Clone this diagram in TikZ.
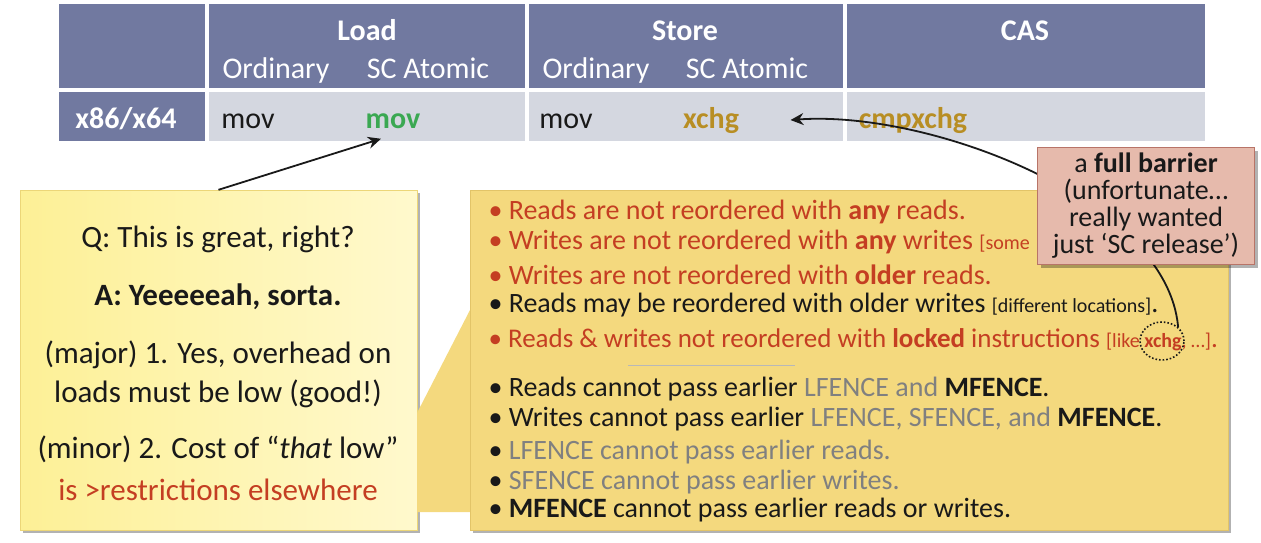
\documentclass[tikz,border=0pt]{standalone}
\usepackage{fontspec}
\setmainfont{Carlito}
\usepackage{xcolor}
\usepackage{tikz}
\usetikzlibrary{positioning,shadows,arrows.meta,shapes.geometric}

\definecolor{hdrblue}{RGB}{113,121,160}
\definecolor{rowgray}{RGB}{212,215,224}
\definecolor{scgreen}{RGB}{58,168,82}
\definecolor{casgold}{RGB}{184,142,36}
\definecolor{notered}{RGB}{196,62,34}
\definecolor{fencegray}{RGB}{128,128,128}
\definecolor{inkblack}{RGB}{25,25,25}
\definecolor{qyellow}{RGB}{253,240,150}
\definecolor{qyellowlt}{RGB}{255,249,205}
\definecolor{qedge}{RGB}{236,214,120}
\definecolor{ruleyellow}{RGB}{244,217,126}
\definecolor{ruleedge}{RGB}{226,196,104}
\definecolor{barrierpink}{RGB}{230,186,172}
\definecolor{barrieredge}{RGB}{184,116,104}

\newcommand{\cellfont}{\fontsize{30}{33}\selectfont}
\newcommand{\qafont}{\fontsize{31}{34}\selectfont}
\newcommand{\rulefont}{\fontsize{28}{30}\selectfont}
\newcommand{\notefont}{\fontsize{20}{22}\selectfont}

\begin{document}
\begin{tikzpicture}[x=1pt,y=-1pt,
  hdr/.style={anchor=base,text=white,font=\cellfont},
  cell/.style={anchor=base,text=inkblack,font=\cellfont},
  qa/.style={anchor=base,text=inkblack,font=\qafont},
  rule/.style={anchor=base west,text=inkblack,font=\rulefont},
  shade/.style={drop shadow={shadow xshift=3pt,shadow yshift=-3pt,opacity=.3,fill=black}},
  tip/.style={line width=1.8pt,draw=inkblack,-{Stealth[length=13pt,width=12pt]}}]
\useasboundingbox (0,0) rectangle (1261,542);

% table
\fill[hdrblue] (59,4) rectangle (205,88);
\fill[hdrblue] (209,4) rectangle (525,88);
\fill[hdrblue] (529,4) rectangle (843,88);
\fill[hdrblue] (847,4) rectangle (1205,88);
\fill[hdrblue] (59,92) rectangle (205,141);
\fill[rowgray] (209,92) rectangle (525,141);
\fill[rowgray] (529,92) rectangle (843,141);
\fill[rowgray] (847,92) rectangle (1205,141);

\node[hdr,font=\cellfont\bfseries] (load) at (367,40) {Load};
\node[hdr] (loadord) at (276,78) {Ordinary};
\node[hdr] (loadsc) at (428,78) {SC Atomic};
\node[hdr,font=\cellfont\bfseries] (store) at (685,40) {Store};
\node[hdr] (storeord) at (596,78) {Ordinary};
\node[hdr] (storesc) at (747,78) {SC Atomic};
\node[hdr,font=\cellfont\bfseries] (cas) at (1025,40) {CAS};

\node[hdr,font=\cellfont\bfseries] (arch) at (126,128) {x86/x64};
\node[cell] (movord) at (248,128) {mov};
\node[cell,text=scgreen,font=\cellfont\bfseries] (movsc) at (393,128) {mov};
\node[cell] (stord) at (566,128) {mov};
\node[cell,text=casgold,font=\cellfont\bfseries] (xchg) at (711,128) {xchg};
\node[cell,text=casgold,font=\cellfont\bfseries] (cmpxchg) at (913,128) {cmpxchg};

% question box
\node[shade,draw=qedge,left color=qyellow,right color=qyellowlt,
  minimum width=397pt,minimum height=340pt] (qbox) at (218.5,360) {};
\node[qa] (q) at (218,247) {Q: This is great, right?};
\node[qa,font=\qafont\bfseries] (a) at (218,305) {A: Yeeeeeah, sorta.};
\node[qa] (major) at (218,363) {(major) 1. Yes, overhead on};
\node[qa] (majorb) at (218,402) {loads must be low (good!)};
\node[qa] (minor) at (218,458) {(minor) 2. Cost of “\textit{that} low”};
\node[qa,text=notered] (minorb) at (218,500) {is >restrictions elsewhere};

\draw[tip] (qbox.north) -- ([xshift=-12pt,yshift=-7pt]movsc.south);

% rules box with callout
\fill[ruleyellow] (417,413) -- (470,310) -- (470,512) -- (417,512) -- cycle;
\node[shade,draw=ruleedge,fill=ruleyellow,
  minimum width=758pt,minimum height=340pt] (rules) at (849,360) {};

\node[rule,text=notered] (r1) at (485,219) {• Reads are not reordered with \textbf{any} reads.};
\node[rule,text=notered] (r2) at (485,249) {• Writes are not reordered with \textbf{any} writes {\notefont [some}};
\node[rule,text=notered] (r3) at (485,284) {• Writes are not reordered with \textbf{older} reads.};
\node[rule] (r4) at (485,312) {• Reads may be reordered with older writes {\notefont [different locations]}.};
\node[rule,text=notered,font=\fontsize{27}{30}\selectfont] (r5) at (485,347) {• Reads \& writes not reordered with \textbf{locked} instructions {\notefont [like \textbf{xchg}, …]}.};
\draw[black!28,line width=1pt] (628,365) -- (795,365);
\node[rule] (r6) at (485,396) {• Reads cannot pass earlier \textcolor{fencegray}{LFENCE and} \textbf{MFENCE}.};
\node[rule] (r7) at (485,426) {• Writes cannot pass earlier \textcolor{fencegray}{LFENCE, SFENCE, and} \textbf{MFENCE}.};
\node[rule] (r8) at (485,459) {• \textcolor{fencegray}{LFENCE cannot pass earlier reads.}};
\node[rule] (r9) at (485,489) {• \textcolor{fencegray}{SFENCE cannot pass earlier writes.}};
\node[rule] (r10) at (485,517) {• \textbf{MFENCE} cannot pass earlier reads or writes.};

% full barrier note
\node[ellipse,draw=inkblack,dotted,line width=1.6pt,
  minimum width=44pt,minimum height=38pt] (ring) at (1162,341) {};
\draw[tip] (ring.north east) .. controls (1167,200) and (930,110) .. ([xshift=48pt]xchg.east);
\node[shade,draw=barrieredge,fill=barrierpink,line width=1pt,
  minimum width=217pt,minimum height=117pt,align=center,
  text=inkblack,font=\fontsize{28}{27}\selectfont] (barrier) at (1146,206)
  {a \textbf{full barrier}\\(unfortunate…\\really wanted\\just ‘SC release’)};
\end{tikzpicture}
\end{document}
